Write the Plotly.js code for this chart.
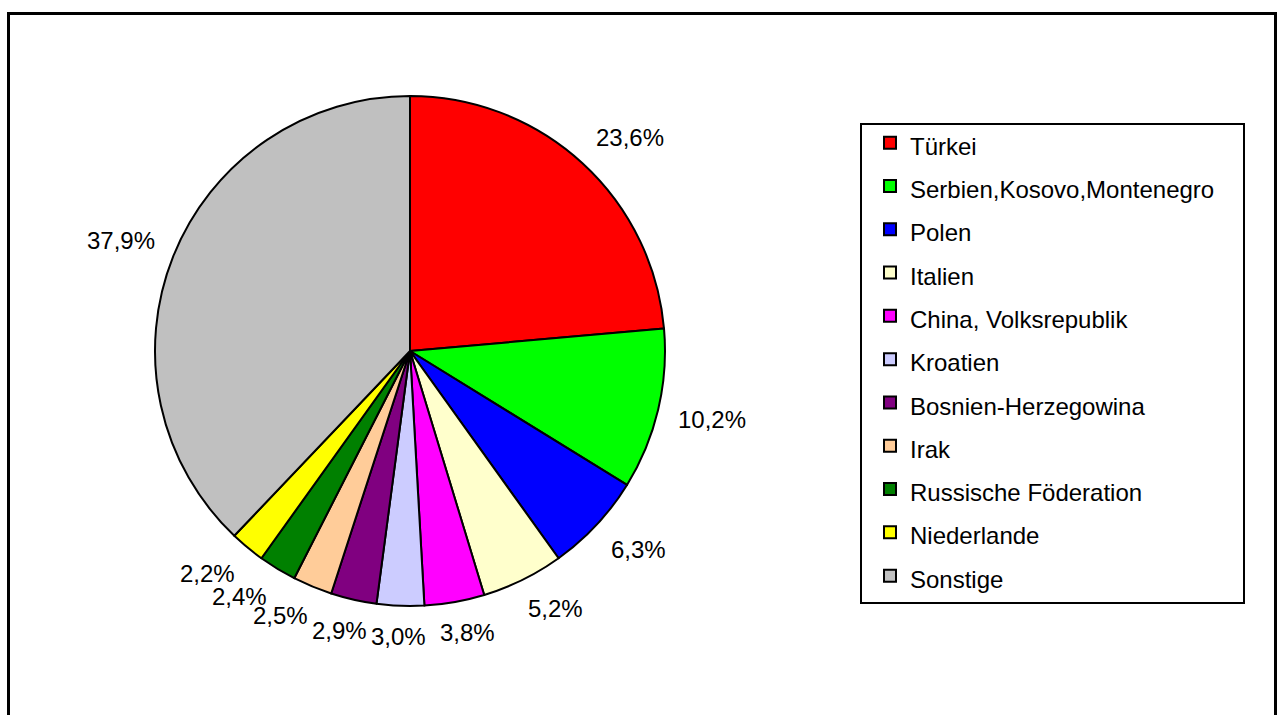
<!DOCTYPE html>
<html>
<head>
<meta charset="utf-8">
<script src="https://cdn.plot.ly/plotly-3.0.1.min.js"></script>
<style>
  html, body { margin: 0; padding: 0; background: #fff; overflow: hidden; }
  #frame { position: absolute; left: 7px; top: 12px; width: 1264px; height: 720px; border: 3px solid #000; pointer-events: none; z-index: 5; }
  #chart { position: absolute; left: 0; top: 0; width: 1280px; height: 715px; }
</style>
</head>
<body>
<div id="chart"></div>
<div id="frame"></div>
<script>
const categories = ["Türkei", "Serbien,Kosovo,Montenegro", "Polen", "Italien", "China, Volksrepublik", "Kroatien", "Bosnien-Herzegowina", "Irak", "Russische Föderation", "Niederlande", "Sonstige"];
const shares = [23.6, 10.2, 6.3, 5.2, 3.8, 3.0, 2.9, 2.5, 2.4, 2.2, 37.9];
const sliceColors = ["#FF0000", "#00FF00", "#0000FF", "#FFFFCC", "#FF00FF", "#CCCCFF", "#800080", "#FFCC99", "#008000", "#FFFF00", "#C0C0C0"];

const W = 1280, H = 715;
const FONT = 'Arial, "Liberation Sans", sans-serif';
const LABEL_SIZE = 24;

// pie geometry (pixels) -> domain
const CX = 410, CY = 351, R = 255;
const domain = { x: [(CX - R) / W, (CX + R) / W], y: [1 - (CY + R) / H, 1 - (CY - R) / H] };

const legendLabels = categories.map(c => '<span style="font-size:24px">' + c + '</span>');

// ---- outside percentage labels, placed from the data (mid-angle of each slice) ----
function fmt(v) { return v.toFixed(1).replace('.', ',') + '%'; }
function textWidth(s) {
  let w = 0;
  for (const ch of s) w += (ch === ',' ? 0.278 : ch === '%' ? 0.889 : 0.556);
  return w * LABEL_SIZE;
}
const clamp = v => Math.max(-1, Math.min(1, v));
const total = shares.reduce((a, b) => a + b, 0);
let cum = 0;
const labels = shares.map(v => {
  const mid = (cum + v / 2) / total * 2 * Math.PI;
  cum += v;
  const t = fmt(v);
  return { text: t, ang: mid, w: textWidth(t), h: 22 };
});
const ANCHOR_R = R + 20;
function place(l) {
  const s = Math.sin(l.ang), c = Math.cos(l.ang);
  const ax = CX + ANCHOR_R * s, ay = CY - ANCHOR_R * c;
  l.px = ax + clamp(s / 0.5) * l.w / 2;
  l.py = ay - clamp(c / 0.5) * l.h / 2;
}
labels.forEach(place);
// simple relaxation so neighbouring labels do not collide
for (let it = 0; it < 3000; it++) {
  let moved = false;
  for (let i = 0; i < labels.length - 1; i++) {
    const a = labels[i], b = labels[i + 1];
    const dx = Math.abs(a.px - b.px), dy = Math.abs(a.py - b.py);
    if (dx < (a.w + b.w) / 2 + 4 && dy < 18) {
      a.ang -= 0.001; b.ang += 0.001;
      place(a); place(b);
      moved = true;
    }
  }
  if (!moved) break;
}
const annotations = labels.map(l => ({
  xref: 'paper', yref: 'paper',
  x: l.px / W, y: 1 - l.py / H,
  xanchor: 'center', yanchor: 'middle',
  text: l.text, showarrow: false,
  font: { family: FONT, size: LABEL_SIZE, color: '#000' }
}));

const trace = {
  type: 'pie',
  labels: legendLabels,
  values: shares,
  sort: false,
  direction: 'clockwise',
  rotation: 0,
  marker: { colors: sliceColors, line: { color: '#000', width: 2 } },
  textinfo: 'none',
  textposition: 'none',
  hoverinfo: 'none',
  domain: domain
};

const layout = {
  width: W, height: H,
  margin: { l: 0, r: 0, t: 0, b: 0 },
  paper_bgcolor: '#fff',
  separators: ',.',
  font: { family: FONT, color: '#000' },
  showlegend: true,
  legend: {
    x: 870 / W, xanchor: 'left',
    y: 1 - 116 / H, yanchor: 'top',
    bgcolor: 'rgba(0,0,0,0)',
    borderwidth: 0,
    font: { family: FONT, size: 31, color: '#000' },
    traceorder: 'normal'
  },
  shapes: [{
    type: 'rect', xref: 'paper', yref: 'paper',
    x0: 861 / W, x1: 1244 / W, y0: 1 - 603 / H, y1: 1 - 124 / H,
    line: { color: '#000', width: 2 }, fillcolor: 'rgba(0,0,0,0)', layer: 'below'
  }],
  annotations: annotations
};

Plotly.newPlot('chart', [trace], layout, { staticPlot: true, displayModeBar: false });
</script>
</body>
</html>
